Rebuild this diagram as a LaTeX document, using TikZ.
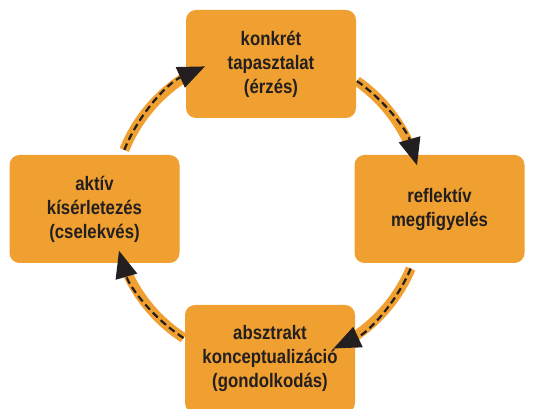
\documentclass[tikz,border=0pt]{standalone}
\usepackage{fontspec}
\newfontfamily\boxfont[FakeStretch=0.86]{Liberation Sans}
\usetikzlibrary{arrows.meta,calc}
\definecolor{boxorange}{HTML}{F0A030}
\definecolor{inkdark}{HTML}{231F20}
\begin{document}
\begin{tikzpicture}[x=1pt,y=1pt,
  stage/.style={fill=boxorange, rounded corners=10pt, minimum width=170pt, minimum height=108pt,
    align=center, text=inkdark, font=\boxfont\bfseries\fontsize{19.5}{24}\selectfont, inner sep=0pt},
  band/.style={draw=boxorange, line width=10pt},
  flow/.style={draw=inkdark, line width=2.2pt, dash pattern=on 7pt off 4pt,
    -{Triangle[length=27pt,width=22pt]}}
]
\useasboundingbox (0,0) rectangle (551,409);
\node[stage] (top) at (271,345) {konkrét\\tapasztalat\\(érzés)};
\node[stage] (right) at (439.5,200) {reflektív\\megfigyelés};
\node[stage] (bottom) at (270,50) {absztrakt\\konceptualizáció\\(gondolkodás)};
\node[stage] (left) at (94.5,200) {aktív\\kísérletezés\\(cselekvés)};
\coordinate (c) at (268,201);
\path (c) ++(158:155) coordinate (s1);
\path (c) ++(55:155) coordinate (s2);
\path (c) ++(-23:155) coordinate (s3);
\path (c) ++(-123:155) coordinate (s4);
% bands
\draw[band] (s1) arc[start angle=158, end angle=123, radius=155];
\draw[band] (s2) arc[start angle=55, end angle=25, radius=155];
\draw[band] (s3) arc[start angle=-23, end angle=-56, radius=155];
\draw[band] (s4) arc[start angle=-123, end angle=-155, radius=155];
% dashed arrows
\draw[flow] (s1) arc[start angle=158, end angle=114, radius=155];
\draw[flow] (s2) arc[start angle=55, end angle=16, radius=155];
\draw[flow] (s3) arc[start angle=-23, end angle=-65, radius=155];
\draw[flow] (s4) arc[start angle=-123, end angle=-164, radius=155];
\end{tikzpicture}
\end{document}
